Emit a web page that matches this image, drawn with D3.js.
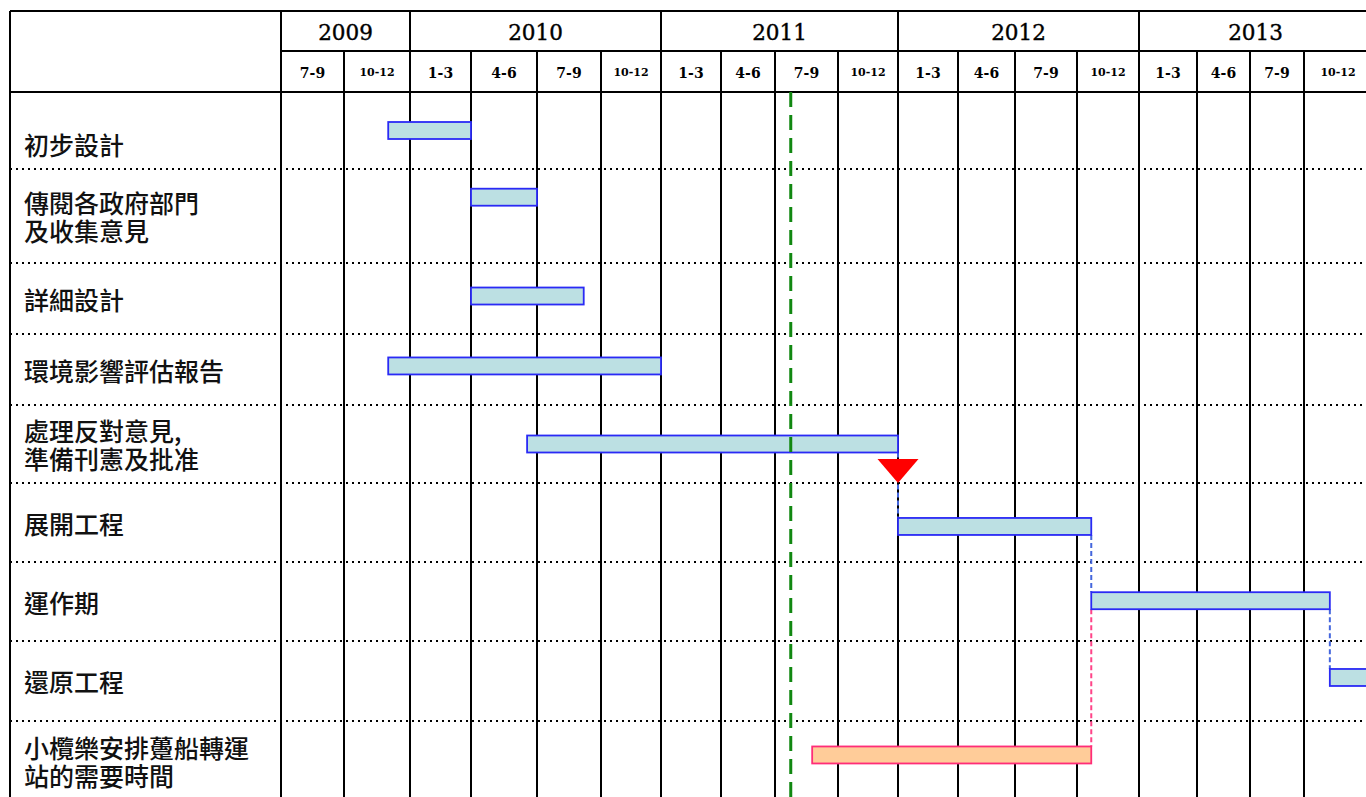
<!DOCTYPE html>
<html>
<head>
<meta charset="utf-8">
<script src="https://cdn.jsdelivr.net/npm/d3@7"></script>
<style>
  body { margin: 0; background: #fff; }
</style>
</head>
<body>
<script>
// header
var years = ["2009", "2010", "2011", "2012", "2013"];
var quartersPerYear = [2, 4, 4, 4, 4];
var quarterLabels = ["7-9", "10-12",
  "1-3", "4-6", "7-9", "10-12",
  "1-3", "4-6", "7-9", "10-12",
  "1-3", "4-6", "7-9", "10-12",
  "1-3", "4-6", "7-9", "10-12"];

// tasks (time in quarters counted from Jul 2009)
var tasks = [
  ["初步設計"],
  ["傳閱各政府部門", "及收集意見"],
  ["詳細設計"],
  ["環境影響評估報告"],
  ["處理反對意見,", "準備刊憲及批准"],
  ["展開工程"],
  ["運作期"],
  ["還原工程"],
  ["小欖樂安排躉船轉運", "站的需要時間"]
];
var taskStart = [1.67, 3, 3, 1.67, 3.85, 10, 13.23, 17.38, 8.59];
var taskEnd   = [3, 4, 4.73, 6, 10, 13.23, 17.38, 18.6, 13.23];
var barge = [false, false, false, false, false, false, false, false, true];

// dependency links: from task, to task, time where the link sits
var linkFrom = [4, 5, 6, 6];
var linkTo   = [5, 6, 7, 8];
var linkAt   = [10, 13.23, 17.38, 13.23];

var today = 8.25;
var milestone = 10;

// layout
var width = 1366, height = 797;
var leftEdge = 10, topEdge = 11, yearRow = 51, headBottom = 92;
var colEdges = [281, 344, 410, 471, 537, 601, 661, 721, 775, 838, 898, 958, 1015, 1077, 1139, 1197, 1250, 1304, 1372];
var rowEdges = [92, 169, 263, 334, 405, 483, 562, 641, 721, 800];
var barFrac = [0.5, 0.3, 0.465, 0.45, 0.5, 0.55, 0.49, 0.456, 0.43];

var x = d3.scaleLinear().domain(d3.range(colEdges.length)).range(colEdges);
var y = d3.scaleLinear().domain(d3.range(rowEdges.length)).range(rowEdges);

var barH = 17;
function barMid(i) { return y(i + barFrac[i]); }
function labelMid(i) { return i === 0 ? y(i + 0.67) : y(i + 0.5); }

var svg = d3.select("body").append("svg")
  .attr("width", width)
  .attr("height", height);

var yearStart = [0];
quartersPerYear.forEach(function(q, i) { yearStart.push(yearStart[i] + q); });

// dotted row separators
svg.append("g").selectAll("line")
  .data(d3.range(1, tasks.length))
  .enter().append("line")
  .attr("x1", leftEdge).attr("x2", width)
  .attr("y1", function(d) { return y(d); })
  .attr("y2", function(d) { return y(d); })
  .attr("stroke", "#000")
  .attr("stroke-width", 2)
  .attr("stroke-dasharray", "2,4");

// quarter lines
svg.append("g").selectAll("line")
  .data(d3.range(1, quarterLabels.length))
  .enter().append("line")
  .attr("x1", function(d) { return x(d); })
  .attr("x2", function(d) { return x(d); })
  .attr("y1", function(d) { return yearStart.indexOf(d) >= 0 ? topEdge : yearRow; })
  .attr("y2", height)
  .attr("stroke", "#000")
  .attr("stroke-width", 2);

// frame
var frame = svg.append("g").attr("stroke", "#000").attr("stroke-width", 2);
frame.append("line").attr("x1", leftEdge).attr("x2", width).attr("y1", topEdge).attr("y2", topEdge);
frame.append("line").attr("x1", x(0)).attr("x2", width).attr("y1", yearRow).attr("y2", yearRow);
frame.append("line").attr("x1", leftEdge).attr("x2", width).attr("y1", headBottom).attr("y2", headBottom);
frame.append("line").attr("x1", leftEdge).attr("x2", leftEdge).attr("y1", topEdge).attr("y2", height);
frame.append("line").attr("x1", x(0)).attr("x2", x(0)).attr("y1", topEdge).attr("y2", height);

// year labels
svg.append("g").selectAll("text")
  .data(years)
  .enter().append("text")
  .attr("x", function(d, i) { return (x(yearStart[i]) + x(yearStart[i + 1])) / 2; })
  .attr("y", (topEdge + yearRow) / 2 + 1)
  .attr("text-anchor", "middle")
  .attr("dominant-baseline", "central")
  .attr("font-family", "DejaVu Serif")
  .attr("font-size", 21.5)
  .attr("stroke", "#000")
  .attr("stroke-width", 0.4)
  .text(function(d) { return d; });

// quarter labels
svg.append("g").selectAll("text")
  .data(quarterLabels)
  .enter().append("text")
  .attr("x", function(d, i) { return (x(i) + x(i + 1)) / 2; })
  .attr("y", (yearRow + headBottom) / 2 + 1)
  .attr("text-anchor", "middle")
  .attr("dominant-baseline", "central")
  .attr("font-family", "DejaVu Serif")
  .attr("font-weight", "bold")
  .attr("font-size", function(d) { return d === "10-12" ? 11 : 14; })
  .text(function(d) { return d; });

// task labels, one text per line
var lines = [];
tasks.forEach(function(t, i) {
  t.forEach(function(s, j) { lines.push({ text: s, row: i, k: j, n: t.length }); });
});
svg.append("g").selectAll("text")
  .data(lines)
  .enter().append("text")
  .attr("x", 24)
  .attr("y", function(d) { return labelMid(d.row) + (d.k - (d.n - 1) / 2) * 28; })
  .attr("dominant-baseline", "central")
  .attr("font-family", "'Noto Sans CJK TC'")
  .attr("font-weight", 500)
  .attr("font-size", 25)
  .attr("fill", "#111")
  .text(function(d) { return d.text; });

// links
svg.append("g").selectAll("line")
  .data(linkFrom)
  .enter().append("line")
  .attr("x1", function(d, i) { return x(linkAt[i]); })
  .attr("x2", function(d, i) { return x(linkAt[i]); })
  .attr("y1", function(d) { return barMid(d) + barH / 2; })
  .attr("y2", function(d, i) { return barMid(linkTo[i]) - barH / 2; })
  .attr("stroke", function(d, i) { return barge[linkTo[i]] ? "#ff4488" : "#4466dd"; })
  .attr("stroke-width", 2)
  .attr("stroke-dasharray", "5,3");

// bars
svg.append("g").selectAll("rect")
  .data(tasks)
  .enter().append("rect")
  .attr("x", function(d, i) { return x(taskStart[i]); })
  .attr("y", function(d, i) { return barMid(i) - barH / 2; })
  .attr("width", function(d, i) { return x(taskEnd[i]) - x(taskStart[i]); })
  .attr("height", barH)
  .attr("fill", function(d, i) { return barge[i] ? "#ffcc99" : "#bce0e3"; })
  .attr("stroke", function(d, i) { return barge[i] ? "#ff2d78" : "#2a2af5"; })
  .attr("stroke-width", 1.8);

// today line
svg.append("line")
  .attr("x1", x(today)).attr("x2", x(today))
  .attr("y1", headBottom).attr("y2", height)
  .attr("stroke", "#118811")
  .attr("stroke-width", 3)
  .attr("stroke-dasharray", "15,8");

// milestone
var mx = x(milestone), my = y(5);
svg.append("path")
  .attr("d", "M" + (mx - 20.5) + "," + (my - 24) + "L" + (mx + 20.5) + "," + (my - 24) + "L" + mx + "," + my + "Z")
  .attr("fill", "#ff0000");
</script>
</body>
</html>
